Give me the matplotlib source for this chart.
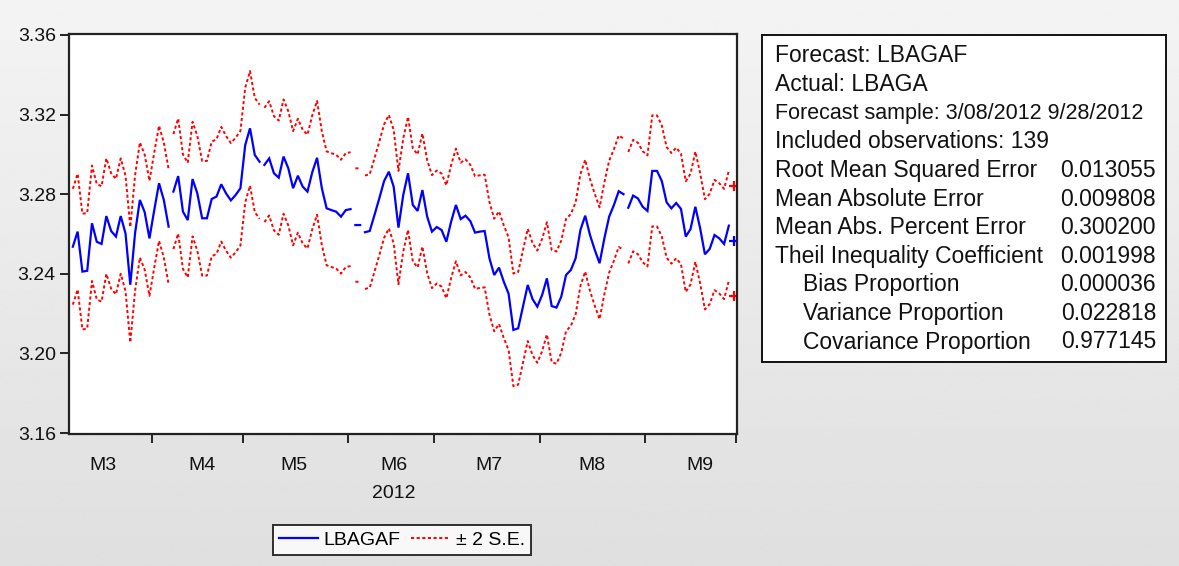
import numpy as np
import matplotlib
matplotlib.use("Agg")
import matplotlib.pyplot as plt
from matplotlib.lines import Line2D

plt.rcParams['font.family'] = ['Liberation Sans', 'DejaVu Sans']

# ---------------------------------------------------------------- data
months = ["M3", "M4", "M5", "M6", "M7", "M8", "M9"]
obs_per_month = [17, 19, 22, 18, 22, 22, 19]
year_label = "2012"

# static forecast LBAGAF, one value per trading day (3/08/2012 - 9/28/2012)
forecast = [
    3.2536, 3.2612, 3.2411, 3.2415, 3.2654, 3.2561, 3.2550, 3.2690, 3.2615, 3.2587,
    3.2690, 3.2603, 3.2345, 3.2605, 3.2771, 3.2710, 3.2578, 3.2720, 3.2855, 3.2771,
    3.2637, 3.2813, 3.2891, 3.2712, 3.2670, 3.2876, 3.2804, 3.2679, 3.2679, 3.2776,
    3.2788, 3.2850, 3.2804, 3.2769, 3.2796, 3.2830, 3.3047, 3.3131, 3.2997, 3.2963,
    3.2947, 3.2980, 3.2905, 3.2883, 3.2989, 3.2930, 3.2830, 3.2893, 3.2838, 3.2813,
    3.2910, 3.2983, 3.2830, 3.2729, 3.2720, 3.2712, 3.2687, 3.2720, 3.2725, 3.2645,
    3.2645, 3.2609, 3.2615, 3.2696, 3.2779, 3.2866, 3.2913, 3.2838, 3.2632, 3.2796,
    3.2905, 3.2746, 3.2716, 3.2821, 3.2687, 3.2612, 3.2635, 3.2620, 3.2561, 3.2662,
    3.2746, 3.2675, 3.2692, 3.2665, 3.2607, 3.2612, 3.2615, 3.2478, 3.2394, 3.2431,
    3.2360, 3.2300, 3.2118, 3.2126, 3.2235, 3.2344, 3.2273, 3.2235, 3.2293, 3.2377,
    3.2238, 3.2230, 3.2285, 3.2394, 3.2419, 3.2478, 3.2620, 3.2692, 3.2595, 3.2520,
    3.2453, 3.2578, 3.2687, 3.2746, 3.2815, 3.2800, 3.2732, 3.2793, 3.2779, 3.2737,
    3.2716, 3.2917, 3.2917, 3.2866, 3.2759, 3.2729, 3.2756, 3.2726, 3.2587, 3.2625,
    3.2737, 3.2629, 3.2498, 3.2525, 3.2595, 3.2578, 3.2550, 3.2642, 3.2566,
]

# forecast standard error for each day
se = [
    0.01455, 0.01455, 0.01455, 0.01450, 0.01450, 0.01450, 0.01450, 0.01450, 0.01450, 0.01450,
    0.01450, 0.01450, 0.01450, 0.01450, 0.01445, 0.01445, 0.01445, 0.01445, 0.01445, 0.01445,
    0.01445, 0.01445, 0.01445, 0.01440, 0.01440, 0.01440, 0.01440, 0.01440, 0.01440, 0.01440,
    0.01440, 0.01440, 0.01440, 0.01440, 0.01440, 0.01440, 0.01440, 0.01440, 0.01435, 0.01435,
    0.01435, 0.01435, 0.01435, 0.01435, 0.01435, 0.01435, 0.01435, 0.01430, 0.01430, 0.01430,
    0.01430, 0.01430, 0.01430, 0.01430, 0.01430, 0.01430, 0.01430, 0.01430, 0.01430, 0.01425,
    0.01425, 0.01425, 0.01425, 0.01425, 0.01425, 0.01425, 0.01425, 0.01425, 0.01425, 0.01420,
    0.01420, 0.01420, 0.01420, 0.01420, 0.01420, 0.01420, 0.01420, 0.01420, 0.01420, 0.01420,
    0.01415, 0.01415, 0.01415, 0.01415, 0.01415, 0.01415, 0.01415, 0.01415, 0.01415, 0.01415,
    0.01415, 0.01415, 0.01415, 0.01415, 0.01415, 0.01410, 0.01410, 0.01410, 0.01410, 0.01410,
    0.01410, 0.01410, 0.01410, 0.01410, 0.01405, 0.01405, 0.01405, 0.01405, 0.01405, 0.01405,
    0.01405, 0.01405, 0.01405, 0.01400, 0.01400, 0.01400, 0.01400, 0.01400, 0.01400, 0.01395,
    0.01395, 0.01395, 0.01395, 0.01395, 0.01390, 0.01390, 0.01390, 0.01390, 0.01390, 0.01390,
    0.01385, 0.01385, 0.01385, 0.01385, 0.01385, 0.01385, 0.01385, 0.01380, 0.01380,
]

# line is interrupted after these observations (missing trading days)
breaks_after = [20, 39, 58, 60, 115, 137]

y_ticks = [3.16, 3.20, 3.24, 3.28, 3.32, 3.36]

stats_labels = [
    "Forecast: LBAGAF",
    "Actual: LBAGA",
    "Forecast sample: 3/08/2012 9/28/2012",
    "Included observations: 139",
    "Root Mean Squared Error",
    "Mean Absolute Error",
    "Mean Abs. Percent Error",
    "Theil Inequality Coefficient",
    "Bias Proportion",
    "Variance Proportion",
    "Covariance Proportion",
]
stats_values = ["", "", "", "", "0.013055", "0.009808", "0.300200",
                "0.001998", "0.000036", "0.022818", "0.977145"]
stats_indented = [False] * 8 + [True] * 3

# ---------------------------------------------------------------- helpers
W, H = 1179, 566


def fx(px):
    return px / W


def fy(py):
    return 1 - py / H


def broken(values):
    xs, ys = [], []
    for i, v in enumerate(values):
        xs.append(i)
        ys.append(v)
        if i in breaks_after:
            xs.append(i + 0.5)
            ys.append(np.nan)
    return xs, ys


def isolated(values):
    n = len(values)
    pts = []
    for i in range(n):
        left_cut = i == 0 or (i - 1) in breaks_after
        right_cut = i == n - 1 or i in breaks_after
        if left_cut and right_cut:
            pts.append((i, values[i]))
    return pts


fc = np.array(forecast)
band = 2 * np.array(se)
upper = fc + band
lower = fc - band

BLUE = "#0000ff"
RED = "#ff0000"
INK = "#111111"

# ---------------------------------------------------------------- figure
fig = plt.figure(figsize=(W / 100, H / 100), dpi=100)

bg = fig.add_axes([0, 0, 1, 1], zorder=-10)
grad = np.linspace(0.955, 0.875, 256).reshape(-1, 1)
bg.imshow(grad, aspect="auto", cmap="gray", vmin=0, vmax=1,
          extent=[0, 1, 0, 1], interpolation="bilinear")
bg.set_axis_off()

ax = fig.add_axes([fx(69), fy(434), fx(737) - fx(69), fy(34) - fy(434)])
ax.set_facecolor("white")

x_b, y_b = broken(fc)
ax.plot(x_b, y_b, color=BLUE, lw=1.6, solid_joinstyle="miter")
for series in (upper, lower):
    xs, ys = broken(series)
    ax.plot(xs, ys, color=RED, lw=1.4, linestyle=(0, (1.6, 1.3)))

for series, col in ((fc, BLUE), (upper, RED), (lower, RED)):
    for i, v in isolated(series):
        ax.plot([i], [v], marker="+", color=col, ms=7, mew=1.6)

ax.set_xlim(-0.8, 138.7)
ax.set_ylim(3.1595, 3.3605)

ax.set_yticks(y_ticks)
ax.set_yticklabels([f"{v:.2f}" for v in y_ticks])

bounds = np.cumsum(obs_per_month) - 0.5
ax.set_xticks(bounds)
ax.set_xticklabels([])

for s in ax.spines.values():
    s.set_linewidth(1.6)
    s.set_color("#222222")
ax.tick_params(axis="both", direction="out", length=6.5, width=1.4,
               color="#222222", labelsize=14, pad=3, labelcolor=INK)

# month labels along the date axis
month_label_px = [103, 202, 294, 394, 489, 592, 700]
for m, px in zip(months, month_label_px):
    fig.text(fx(px), fy(465), m, ha="center", va="center",
             fontsize=14, color=INK)
fig.text(fx(394), fy(493), year_label, ha="center", va="center",
         fontsize=14, color=INK)

# legend
handles = [Line2D([], [], color=BLUE, lw=1.6),
           Line2D([], [], color=RED, lw=1.4, linestyle=(0, (1.6, 1.3)))]
leg = fig.legend(handles, ["LBAGAF", "\u00b1 2 S.E."], loc="center",
                 bbox_to_anchor=(fx(402), fy(540)), ncol=2, frameon=True,
                 fancybox=False, edgecolor="black", fontsize=14,
                 handlelength=2.0, handletextpad=0.3, columnspacing=0.55,
                 borderpad=0.3, borderaxespad=0)
leg.get_frame().set_linewidth(1.4)
leg.get_frame().set_facecolor("white")

# statistics box
sb = fig.add_axes([fx(762), fy(362), fx(1166) - fx(762), fy(35) - fy(362)])
sb.set_facecolor("white")
sb.set_xticks([])
sb.set_yticks([])
for s in sb.spines.values():
    s.set_linewidth(1.4)
    s.set_color(INK)

for k, (lab, val, ind) in enumerate(zip(stats_labels, stats_values, stats_indented)):
    y = 56 + 28.6 * k
    size = 15.5 if lab.startswith("Forecast sample") else 16.5
    fig.text(fx(803 if ind else 775), fy(y), lab, ha="left", va="center",
             fontsize=size, color=INK)
    if val:
        fig.text(fx(1156), fy(y), val, ha="right", va="center",
                 fontsize=16.5, color=INK)

fig.savefig("out.png", dpi=100)
